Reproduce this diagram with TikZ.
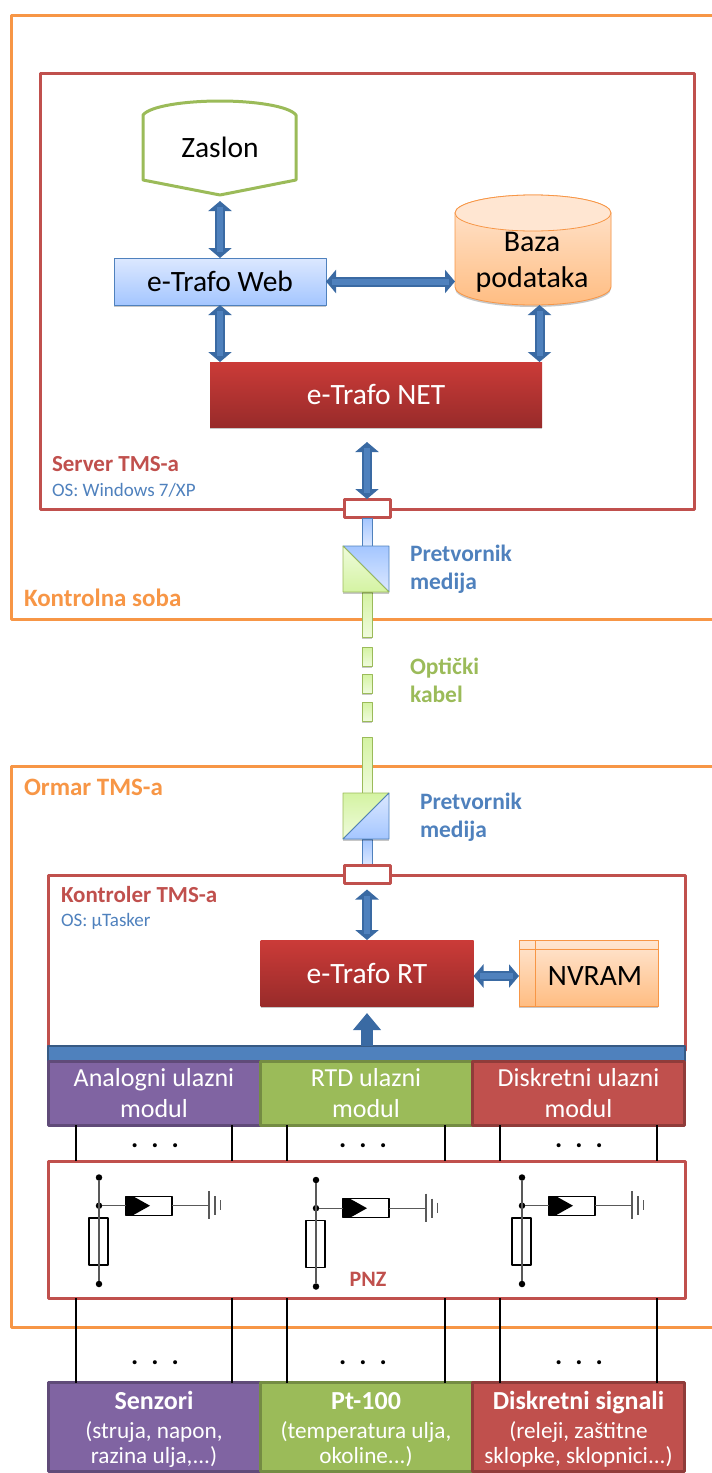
\documentclass[tikz,border=0pt]{standalone}
\usepackage{fontspec}
\setmainfont{Carlito}
\usetikzlibrary{arrows.meta,shadows,calc}
\definecolor{framered}{HTML}{C0504D}
\definecolor{frameorange}{HTML}{F79646}
\definecolor{officeblue}{HTML}{4F81BD}
\definecolor{officegreen}{HTML}{9BBB59}
\definecolor{officepurple}{HTML}{8064A2}
\definecolor{arrowblue}{HTML}{3A6AA3}
\definecolor{netlight}{HTML}{CB3B38}
\definecolor{netdark}{HTML}{982B2A}
\definecolor{webpale}{HTML}{DCE8FF}
\definecolor{webdeep}{HTML}{A4C6FF}
\definecolor{bazapale}{HTML}{FFE6D2}
\definecolor{bazadeep}{HTML}{FFBD82}
\definecolor{greendeep}{HTML}{D4F3A2}
\definecolor{greenpale}{HTML}{EFFBDC}
\tikzset{
	softshadow/.style={drop shadow={shadow xshift=0pt, shadow yshift=-2pt, opacity=.22, fill=black}},
	zone/.style={draw=frameorange, line width=3pt},
	zonelabel/.style={anchor=west, text=frameorange, font=\fontsize{25}{25}\selectfont\bfseries},
	redbox/.style={draw=framered, line width=3pt},
	boxlabel/.style={anchor=west, text=framered, font=\fontsize{23}{23}\selectfont\bfseries},
	oslabel/.style={anchor=west, text=officeblue, font=\fontsize{19}{19}\selectfont},
	sidelabel/.style={anchor=west, align=left, font=\fontsize{23.5}{28}\selectfont\bfseries},
	port/.style={draw=framered, line width=3pt, fill=white, minimum width=46pt, minimum height=18pt},
	link/.style={draw=arrowblue, line width=10pt, {Triangle[length=10pt,width=23pt]}-{Triangle[length=10pt,width=23pt]},
		postaction={draw=officeblue, line width=6pt, -, shorten <=6pt, shorten >=6pt}},
	webbox/.style={draw=officeblue, line width=.8pt, top color=webpale, bottom color=webdeep, softshadow, minimum width=212pt, minimum height=47pt},
	netbox/.style={text=white, top color=netlight, bottom color=netdark, softshadow},
	orangebox/.style={draw=frameorange, line width=.8pt, top color=bazapale, bottom color=bazadeep},
	bluestrip/.style={draw=officeblue, line width=.8pt, top color=webdeep, bottom color=webpale, minimum width=10pt},
	greenstrip/.style={draw=officegreen, line width=.8pt, top color=greendeep, bottom color=greenpale, softshadow, minimum width=10pt},
	module/.style={line width=3pt, text=white, minimum width=212pt, align=center},
	modulea/.style={module, minimum height=64pt, font=\fontsize{26}{31}\selectfont},
	moduleb/.style={module, minimum height=89pt, font=\fontsize{23.2}{25}\selectfont},
	purplefill/.style={draw=officepurple!75!black, fill=officepurple},
	greenfill/.style={draw=officegreen!75!black, fill=officegreen},
	redfill/.style={draw=framered!75!black, fill=framered},
	wire/.style={draw=black, line width=1.5pt},
	part/.style={draw=black, line width=1.4pt},
	stem/.style={draw=black!65, line width=1.2pt},
	joint/.style={circle, fill=black, inner sep=0pt, minimum size=6.5pt},
	dotsrow/.style={font=\fontsize{27}{27}\selectfont\bfseries},
}
\newcommand{\headline}[1]{\rule{0pt}{23pt}{\fontsize{26}{30}\selectfont\bfseries #1}\\[4pt]}
\begin{document}
\begin{tikzpicture}[x=1pt, y=-1pt, line join=round, font=\fontsize{29.5}{34}\selectfont, every node/.append style={inner sep=0pt, outer sep=0pt}]
	\useasboundingbox (0,0) rectangle (712,1473);
	% zones
	\draw[zone] (712,15)--(11,15)--(11,619)--(712,619);
	\draw[zone] (712,766)--(11,766)--(11,1327)--(712,1327);
	\node[zonelabel] (soba) at (24,598) {Kontrolna soba};
	\node[zonelabel] (ormar) at (24,787) {Ormar TMS-a};
	% server
	\draw[redbox] (40,73) rectangle (694,509);
	\node[boxlabel] (server) at (52,464) {Server TMS-a};
	\node[oslabel] (serveros) at (52,490) {OS: Windows 7/XP};
	\draw[draw=officegreen, line width=3pt, fill=white] (143,115) .. controls (150,106) and (185,101) .. (220,101) .. controls (254,101) and (289,106) .. (296,115) -- (296,180) -- (220,195) -- (143,180) -- cycle;
	\node[minimum width=153pt, minimum height=94pt] (zaslon) at (220,147) {Zaslon};
	\node[webbox] (web) at (220,281.5) {e-Trafo Web};
	\path[top color=bazapale, bottom color=bazadeep, draw=frameorange, line width=.8pt, softshadow] (455,213) arc[start angle=180, end angle=360, x radius=78, y radius=18] -- (611,287) arc[start angle=0, end angle=180, x radius=78, y radius=18] -- cycle;
	\draw[draw=frameorange, line width=.8pt, fill=bazapale] (533,213) ellipse[x radius=78, y radius=18];
	\node[minimum width=156pt, minimum height=110pt] (baza) at (533,250) {};
	\node[align=center, font=\fontsize{30}{36}\selectfont] (bazatext) at (532,262) {Baza\\podataka};
	\node[netbox, minimum width=332pt, minimum height=65pt] (net) at (376,394.5) {e-Trafo NET};
	\draw[link] ($(zaslon.south)+(0,7)$) -- (web.north);
	\draw[link] (web.east) -- (baza.west |- web.east);
	\draw[link] (web.south) -- (net.north -| web.south);
	\draw[link] (baza.south -| 539.5,0) -- (net.north -| 539.5,0);
	\node[port] (portup) at (367,508) {};
	\draw[link] ($(net.south -| portup.north)+(0,15)$) -- (portup.north);
	% media converters and fibre
	\node[bluestrip, minimum height=28pt] (stripa) at (367,532) {};
	\node[greenstrip, minimum height=45pt] (stripb) at (367,614.5) {};
	\node[greenstrip, minimum height=19pt] (dasha) at (367,656.5) {};
	\node[greenstrip, minimum height=19pt] (dashb) at (367,683.5) {};
	\node[greenstrip, minimum height=19pt] (dashc) at (367,711.5) {};
	\node[greenstrip, minimum height=56pt] (stripc) at (367,765) {};
	\node[bluestrip, minimum height=26pt] (stripd) at (367,852) {};
	\node[minimum size=46pt, fill=white, softshadow] (conva) at (366,569) {};
	\path[top color=webdeep, bottom color=webpale, draw=officeblue, line width=.8pt] (conva.north west)--(conva.north east)--(conva.south east)--cycle;
	\path[top color=greenpale, bottom color=greendeep, draw=officegreen, line width=.8pt] (conva.north west)--(conva.south west)--(conva.south east)--cycle;
	\node[minimum size=46pt, fill=white, softshadow] (convb) at (366,816) {};
	\path[top color=greendeep, bottom color=greenpale, draw=officegreen, line width=.8pt] (convb.north west)--(convb.north east)--(convb.south west)--cycle;
	\path[top color=webpale, bottom color=webdeep, draw=officeblue, line width=.8pt] (convb.north east)--(convb.south east)--(convb.south west)--cycle;
	\node[sidelabel, text=officeblue] (mediaa) at (410,569) {Pretvornik\\medija};
	\node[sidelabel, text=officegreen] (optika) at (410,680) {Optički\\kabel};
	\node[sidelabel, text=officeblue] (mediab) at (420,817) {Pretvornik\\medija};
	% controller
	\draw[redbox] (48,875) rectangle (685,1050);
	\node[port] (portdown) at (367,874.5) {};
	\node[boxlabel] (kontroler) at (61,895) {Kontroler TMS-a};
	\node[oslabel] (kontroleros) at (61,921) {OS: µTasker};
	\node[netbox, minimum width=213pt, minimum height=66pt] (rt) at (367,973) {e-Trafo RT};
	\node[orangebox, softshadow, minimum width=139pt, minimum height=66pt] (nvram) at (588.5,973) {};
	\draw[draw=frameorange, line width=.8pt] (nvram.north west) ++(16,0) -- ++(0,66) (nvram.north west) ++(0,9) -- ++(139,0);
	\node (nvramtext) at (595,976) {NVRAM};
	\draw[link] ($(portdown.south)+(0,6)$) -- (rt.north);
	\draw[link] (rt.east |- nvramtext.center) -- (nvram.west |- nvramtext.center);
	\node[draw=officeblue!70!black, fill=officeblue, line width=2pt, minimum width=637pt, minimum height=15pt] (bus) at (366.5,1053) {};
	\draw[draw=arrowblue, line width=12pt, -{Triangle[length=17pt,width=27pt]}] (bus.north -| rt.south) -- ($(rt.south)+(0,7)$);
	\node[modulea, purplefill] (moda) at (154,1093) {Analogni ulazni\\modul};
	\node[modulea, greenfill] (modb) at (366,1093) {RTD ulazni\\modul};
	\node[modulea, redfill] (modc) at (578.5,1093) {Diskretni ulazni\\modul};
	% protection board
	\node[draw=framered, line width=3pt, fill=white, minimum width=637pt, minimum height=137pt] (pnz) at (366.5,1229.5) {};
	\node[text=framered, font=\fontsize{22}{22}\selectfont\bfseries] (pnztext) at (368,1279) {PNZ};
	\foreach \cname/\sx/\sy in {one/0/0, two/217/2.5, three/423/0}{
		\begin{scope}[shift={(\sx,\sy)}]
			\node[joint] (top\cname) at (99,1177.5) {};
			\node[joint] (mid\cname) at (99,1205.7) {};
			\node[joint] (end\cname) at (99,1284) {};
			\node[part, minimum width=19pt, minimum height=47pt] (res\cname) at (98.5,1241.5) {};
			\node[part, minimum width=46pt, minimum height=19pt] (fuse\cname) at (149,1205.7) {};
			\coordinate (gnd\cname) at (209,1205.7);
			\draw[stem] (top\cname) -- (end\cname);
			\draw[stem] (mid\cname) -- (fuse\cname.west);
			\draw[stem] (fuse\cname.east) -- (gnd\cname);
			\fill (fuse\cname.north west) -- ++(7,0) -- (150,1205.7) -- (133,1215.2) -- (fuse\cname.south west) -- cycle;
			\draw[stem] (209,1191) -- (209,1219) (215,1196) -- (215,1215) (220.5,1200) -- (220.5,1210);
		\end{scope}
	}
	% field side
	\node[moduleb, purplefill] (senzori) at (154,1427) {\headline{Senzori}(struja, napon,\\razina ulja,...)};
	\node[moduleb, greenfill] (pt) at (366,1427) {\headline{Pt-100}(temperatura ulja,\\okoline...)};
	\node[moduleb, redfill] (signali) at (578.5,1427) {\headline{Diskretni signali}(releji, zaštitne\\sklopke, sklopnici...)};
	% wires
	\foreach \wx in {76,232,287,445,500,657}{
		\draw[wire] (moda.south -| \wx,0) -- (pnz.north -| \wx,0);
		\draw[wire] (pnz.south -| \wx,0) -- (senzori.north -| \wx,0);
	}
	\foreach \dname/\dx in {a/155,b/363,c/579}{
		\node[dotsrow] (upper\dname) at (\dx,1146) {.\hspace{13pt}.\hspace{13pt}.};
		\node[dotsrow] (lower\dname) at (\dx,1363) {.\hspace{13pt}.\hspace{13pt}.};
	}
\end{tikzpicture}
\end{document}
